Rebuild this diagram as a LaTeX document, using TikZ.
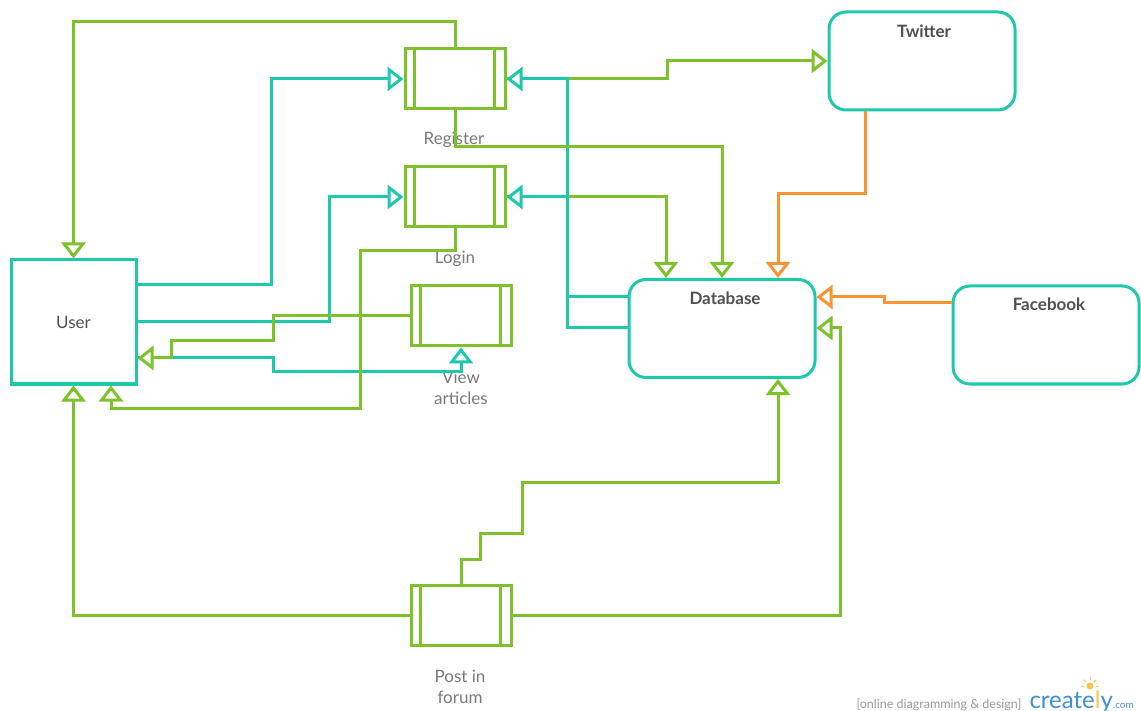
\documentclass[tikz,border=0pt]{standalone}
\usepackage{fontspec}
\setmainfont{Lato}
\usetikzlibrary{arrows.meta}
\definecolor{tl}{HTML}{1EC8AA}
\definecolor{gn}{HTML}{7DC22B}
\definecolor{og}{HTML}{F79433}
\definecolor{dk}{HTML}{505050}
\definecolor{lg}{HTML}{7A7A7A}
\definecolor{cb}{HTML}{3E8FD6}
\definecolor{cy}{HTML}{F5C74A}
\begin{document}
\begin{tikzpicture}[x=1pt,y=-1pt,line width=3pt,line join=miter,
  arrowtip/.style={-{Triangle[open,length=16pt,width=24pt,line width=3pt,fill=white]}},
  proc/.style={draw=gn,rectangle,minimum width=100pt,minimum height=60pt,inner sep=0pt,fill=white},
  ent/.style={draw=tl,rectangle,rounded corners=17pt,minimum width=186pt,minimum height=98pt,inner sep=0pt,fill=white},
  ilbl/.style={text=dk,font=\fontsize{17}{21}\selectfont\bfseries},
  olbl/.style={text=lg,font=\fontsize{17}{21}\selectfont,align=center},
  tc/.style={draw=tl,arrowtip},
  gc/.style={draw=gn,arrowtip},
  oc/.style={draw=og,arrowtip}]
\useasboundingbox (0,0) rectangle (1141,711);
\fill[white] (0,0) rectangle (1141,711);
% nodes
\node[draw=tl,rectangle,minimum width=125pt,minimum height=124pt,inner sep=0pt,fill=white,text=dk,font=\fontsize{17}{21}\selectfont] (user) at (73.5,322) {User};
\node[proc] (reg) at (455,79) {};
\node[proc] (login) at (455,197) {};
\node[proc] (view) at (461,316) {};
\node[proc] (post) at (461,615) {};
\foreach \n in {reg,login,view,post}
  \draw[gn] ([xshift=11pt]\n.north west) -- ([xshift=11pt]\n.south west)
            ([xshift=-12pt]\n.north east) -- ([xshift=-12pt]\n.south east);
\node[ent] (tw) at (922,61) {};
\node[ent] (db) at (722,328.5) {};
\node[ent] (fb) at (1046,335) {};
\node[ilbl] (twl) at (924,31) {Twitter};
\node[ilbl] (dbl) at (725,298) {Database};
\node[ilbl] (fbl) at (1049,304) {Facebook};
\node[olbl] (regl) at (454,140) {Register};
\node[olbl] (loginl) at (455,259) {Login};
\node[olbl] (viewl) at (461,388) {View\\articles};
\node[olbl] (postl) at (460,687) {Post in\\forum};
% connectors (green under teal)
\draw[gc] (reg.east) -- (667,79) |- (tw.west);
\draw[gc] (login.east) -| (666,0 |- db.north);
% teal
\draw[tc] (user.east |- 0,285) -| (271,79) -- (reg.west);
\draw[tc] (user.east) -| (329,197) -- (login.west);
\draw[tc] (db.west |- 0,297) -| (567,79) -- (reg.east);
\draw[tc] (db.west |- 0,328) -| (567,197) -- (login.east);
\draw[tc] (user.east |- 0,358) -| (273,372) -| (view.south);
% green
\draw[gc] (reg.north) -- (455,22) -| (user.north);
\draw[gc] (reg.south) -- (455,147) -| (db.north);
\draw[gc] (view.west) -| (273,341) -| (171,358) -- (user.east |- 0,358);
\draw[gc] (login.south) -- (455,251) -| (360,408) -| (111,0 |- user.south);
\draw[gc] (post.west) -| (user.south);
\draw[gc] (post.east) -| (840,328) -- (db.east |- 0,328);
\draw[gc] (post.north) -- (461,559) -| (480,533) -| (522,482) -| (778,0 |- db.south);
% orange
\draw[oc] (865,0 |- tw.south) -- (865,194) -| (778,0 |- db.north);
\draw[oc] (fb.west |- 0,303) -- (884,303) |- (db.east |- 0,297);
% watermark
\node[anchor=base west,inner sep=0pt,text=gray!80,font=\fontsize{12.5}{12.5}\selectfont] (wm) at (855,708) {[online diagramming \& design]};
\node[anchor=base west,inner sep=0pt,font=\fontsize{24}{24}\selectfont] (crt) at (1028,708) {\textcolor{cb}{create}\textcolor{cy}{l}\textcolor{cb}{y}\textcolor{cb}{\fontsize{10}{10}\selectfont.com}};
\fill[cy] (1090,686) circle (3.5pt);
\foreach \a in {0,45,90,135,180} \draw[cy,line width=1pt] (1090,686) ++(\a:6pt) -- ++(\a:3pt);
\end{tikzpicture}
\end{document}
